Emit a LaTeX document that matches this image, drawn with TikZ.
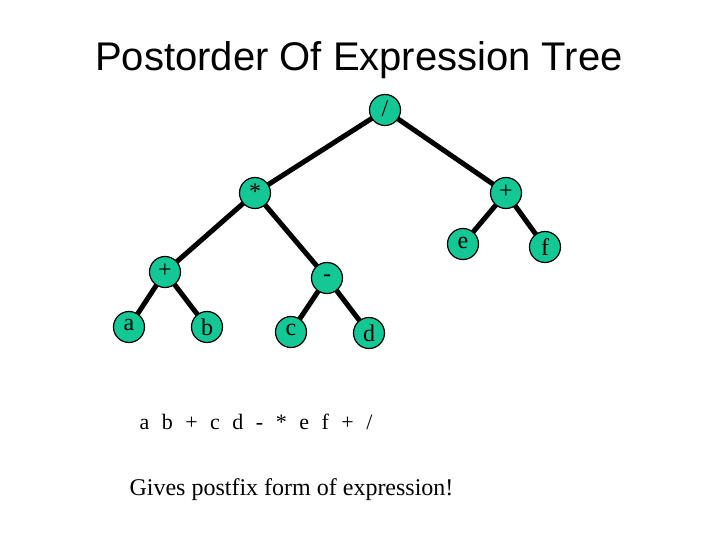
\documentclass[tikz,border=0pt]{standalone}
\usepackage{fontspec}
\setmainfont{Liberation Serif}
\newfontfamily\arialf{Liberation Sans}
\definecolor{nodegreen}{RGB}{20,200,150}
\newcommand{\sq}{\hspace{12.5pt}}
\begin{document}
\begin{tikzpicture}[x=1pt,y=-1pt,
  tn/.style={circle,draw=black,line width=1.2pt,fill=nodegreen,minimum size=31pt,inner sep=0pt,font=\fontsize{24}{24}\selectfont},
  edge/.style={line width=5pt}]
\useasboundingbox (0,0) rectangle (720,540);
\node[font=\arialf\fontsize{40}{40}\selectfont] (title) at (359,60) {Postorder Of Expression Tree};
\coordinate (pdiv) at (385,110);
\coordinate (pmul) at (255,193);
\coordinate (pplus) at (506,193);
\coordinate (pe) at (463,244);
\coordinate (pf) at (545,247);
\coordinate (pplus2) at (165,272);
\coordinate (pminus) at (327,278);
\coordinate (pa) at (129,327);
\coordinate (pb) at (207,327);
\coordinate (pc) at (291,332);
\coordinate (pd) at (369,333);
\draw[edge] (pdiv)--(pmul) (pdiv)--(pplus) (pplus)--(pe) (pplus)--(pf)
  (pmul)--(pplus2) (pmul)--(pminus) (pplus2)--(pa) (pplus2)--(pb)
  (pminus)--(pc) (pminus)--(pd);
\node[tn] (ndiv) at (pdiv) {\raisebox{3pt}{/}};
\node[tn] (nmul) at (pmul) {\raisebox{3pt}{*}};
\node[tn] (nplus) at (pplus) {\raisebox{3pt}{+}};
\node[tn] (ne) at (pe) {\raisebox{3pt}{e}};
\node[tn] (nf) at (pf) {f};
\node[tn] (nplus2) at (pplus2) {\raisebox{3pt}{+}};
\node[tn] (nminus) at (pminus) {-};
\node[tn] (na) at (pa) {\raisebox{5pt}{a}};
\node[tn] (nb) at (pb) {b};
\node[tn] (nc) at (pc) {\raisebox{4pt}{c}};
\node[tn] (nd) at (pd) {d};
\node[anchor=west,font=\fontsize{22}{22}\selectfont] (seq) at (136,422) {a\sq b\sq +\sq c\sq d\sq -\sq *\sq e\sq f\sq +\sq /};
\node[anchor=west,font=\fontsize{24}{24}\selectfont] (gives) at (126,490) {Gives postfix form of expression!};
\end{tikzpicture}
\end{document}
